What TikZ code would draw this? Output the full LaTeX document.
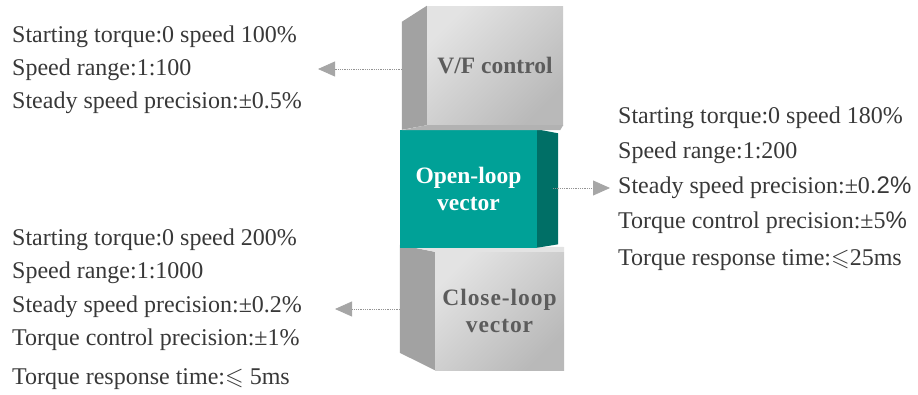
\documentclass[tikz,border=0pt]{standalone}
\usepackage{amssymb}
\usepackage{fontspec}
\setmainfont{Liberation Serif}
\newfontfamily\arialfont{Liberation Sans}
\usetikzlibrary{matrix,arrows.meta}
\definecolor{textgray}{HTML}{383838}
\definecolor{labelgray}{HTML}{5C5C5C}
\definecolor{sidegray}{HTML}{A2A2A2}
\definecolor{teal1}{HTML}{00A197}
\definecolor{teal2}{HTML}{006F66}
\definecolor{tipgray}{HTML}{A6A6A6}

\begin{document}
\begin{tikzpicture}[x=1pt,y=-1pt,
    every node/.style={inner sep=0pt},
    spec/.style={matrix of nodes, anchor=north west, inner sep=0pt,
        row sep=11pt,
        nodes={anchor=base west, text height=17pt, text depth=5pt,
            font=\fontsize{24}{28}\selectfont, text=textgray}},
    face/.style={minimum height=118pt, align=center,
        font=\fontsize{23.5}{27}\selectfont\bfseries},
    grayface/.style={face, top color=gray!22, bottom color=gray!55,
        shading angle=45, text=labelgray},
    link/.style={draw=gray!85, densely dotted, line width=.8pt,
        -{Triangle[length=17pt,width=15pt,color=tipgray]}}]

    \useasboundingbox (0,0) rectangle (918,394);

    % lower block
    \node[grayface, minimum width=129pt] (cl) at (499.5,311)
        {\addfontfeatures{LetterSpace=4}Close-loop\\ \addfontfeatures{LetterSpace=4}vector};
    \fill[sidegray] (cl.north west) -- ++(-35,-7) -- ++(0,108) -- (cl.south west) -- cycle;
    \fill[gray!22] (cl.north west) -- ++(-35,-7) -- (564,247) -- (cl.north east) -- cycle;

    % middle block
    \node[face, fill=teal1, text=white, minimum width=137pt] (ol) at (468.5,188.5)
        {Open-loop\\vector};
    \fill[teal2] (ol.north east) -- ++(21,4) -- ++(0,111) -- (ol.south east) -- cycle;

    % upper block
    \node[grayface, minimum width=136pt, minimum height=119pt] (vf) at (495,65.5)
        {V/F control};
    \fill[sidegray] (vf.north west) -- ++(-25,16) -- ++(0,108) -- (vf.south west) -- cycle;
    \fill[gray!60] (vf.south west) -- (vf.south east) -- ++(-3,5) -- (402,130) -- cycle;

    \matrix (vfspec) [spec] at (12,25) {
        Starting torque:0 speed 100\% \\
        Speed range:1:100 \\
        Steady speed precision:±0.5\% \\
    };

    \matrix (olspec) [spec, row sep=13pt] at (618,106) {
        Starting torque:0 speed 180\% \\
        Speed range:1:200 \\
        Steady speed precision:±0{\arialfont .2\%} \\
        Torque control precision:±5{\arialfont\%} \\[2pt]
        Torque response time:$\leqslant$25ms \\
    };

    \matrix (clspec) [spec] at (12,228) {
        Starting torque:0 speed 200\% \\
        Speed range:1:1000 \\[1pt]
        Steady speed precision:±0.2\% \\
        Torque control precision:±1\% \\[6pt]
        Torque response time:$\leqslant$ 5ms \\
    };

    \coordinate (vfout) at (402,69);
    \coordinate (vftip) at (318,69);
    \coordinate (olout) at (553,188);
    \coordinate (oltip) at (610,188);
    \coordinate (clout) at (400,309);
    \coordinate (cltip) at (335,309);

    \draw[link] (vfout) -- (vftip);
    \draw[link] (olout) -- (oltip);
    \draw[link] (clout) -- (cltip);

\end{tikzpicture}
\end{document}
